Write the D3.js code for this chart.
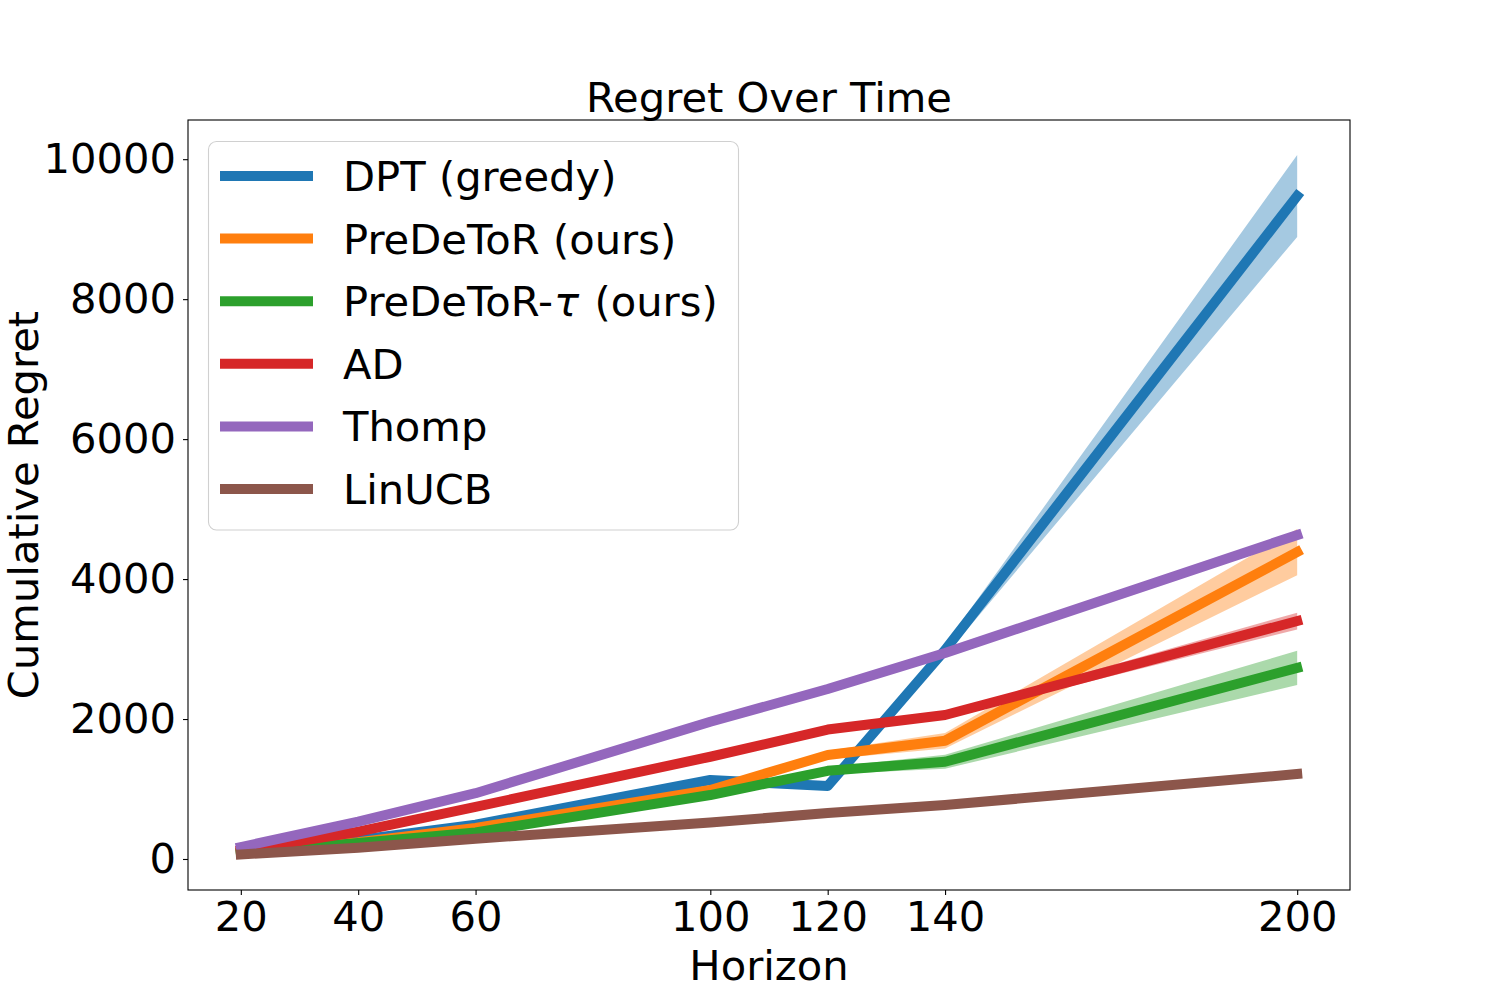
<!DOCTYPE html>
<html>
<head>
<meta charset="utf-8">
<script src="https://cdn.jsdelivr.net/npm/d3@7/dist/d3.min.js"></script>
<style>
  body { margin: 0; background: #fff; }
  text { font-family: "DejaVu Sans", sans-serif; }
</style>
</head>
<body>
<svg id="chart" width="1500" height="1000"></svg>
<script>
// ---- data ----
const horizons = [20, 40, 60, 100, 120, 140, 200];
const seriesNames = ["DPT (greedy)", "PreDeToR (ours)", "PreDeToR-τ (ours)", "AD", "Thomp", "LinUCB"];
const seriesColors = ["#1f77b4", "#ff7f0e", "#2ca02c", "#d62728", "#9467bd", "#8c564b"];
const dptMean      = [100, 271, 490, 1129, 1043, 2986, 9475];
const dptStd       = [5, 10, 15, 30, 40, 80, 585];
const predetorMean = [90, 240, 443, 986, 1486, 1690, 4386];
const predetorStd  = [5, 10, 15, 30, 60, 110, 330];
const tauMean      = [85, 229, 380, 914, 1260, 1390, 2730];
const tauStd       = [5, 10, 15, 30, 50, 100, 245];
const adMean       = [125, 390, 745, 1461, 1850, 2057, 3400];
const adStd        = [5, 10, 15, 20, 30, 40, 120];
const thompMean    = [171, 533, 940, 1961, 2429, 2943, 4630];
const thompStd     = [3, 5, 10, 15, 20, 25, 40];
const linucbMean   = [65, 160, 290, 520, 657, 771, 1214];
const linucbStd    = [8, 5, 8, 10, 12, 15, 20];
const yTicks = [0, 2000, 4000, 6000, 8000, 10000];
const titleText = "Regret Over Time";
const xLabel = "Horizon";
const yLabel = "Cumulative Regret";

const means = [dptMean, predetorMean, tauMean, adMean, thompMean, linucbMean];
const stds  = [dptStd, predetorStd, tauStd, adStd, thompStd, linucbStd];

// ---- layout ----
const L = 188, R = 1350, T = 120, B = 890;
const FS = 41.67;
const svg = d3.select("#chart");

const series = seriesNames.map((name, i) => ({
  name, color: seriesColors[i],
  pts: horizons.map((h, j) => ({ x: h, y: means[i][j], lo: means[i][j] - stds[i][j], hi: means[i][j] + stds[i][j] }))
}));

// matplotlib-style 5% margins
const xExt = d3.extent(horizons);
const xPad = (xExt[1] - xExt[0]) * 0.05;
const allLo = d3.min(series, s => d3.min(s.pts, p => Math.min(p.lo, p.y)));
const allHi = d3.max(series, s => d3.max(s.pts, p => Math.max(p.hi, p.y)));
const yPad = (allHi - allLo) * 0.05;

const x = d3.scaleLinear().domain([xExt[0] - xPad, xExt[1] + xPad]).range([L, R]);
const y = d3.scaleLinear().domain([allLo - yPad, allHi + yPad]).range([B, T]);

// clip
svg.append("defs").append("clipPath").attr("id", "clip")
  .append("rect").attr("x", L).attr("y", T).attr("width", R - L).attr("height", B - T);

const plot = svg.append("g").attr("clip-path", "url(#clip)");

// bands (below lines)
const area = d3.area().x(d => x(d.x)).y0(d => y(d.lo)).y1(d => y(d.hi));
series.forEach(s => {
  plot.append("path").attr("d", area(s.pts)).attr("fill", s.color).attr("fill-opacity", 0.4).attr("stroke", "none");
});

// lines
const line = d3.line().x(d => x(d.x)).y(d => y(d.y));
series.forEach(s => {
  plot.append("path").attr("d", line(s.pts)).attr("fill", "none")
    .attr("stroke", s.color).attr("stroke-width", 10)
    .attr("stroke-linejoin", "round").attr("stroke-linecap", "square");
});

// axes
const xAxis = d3.axisBottom(x).tickValues(horizons).tickSize(5).tickPadding(6).tickFormat(d3.format("d"));
const gx = svg.append("g").attr("transform", `translate(0,${B})`).call(xAxis);
gx.select(".domain").remove();
gx.selectAll("line").attr("stroke", "#000").attr("stroke-width", 1.1);
gx.selectAll("text").attr("font-size", FS).attr("fill", "#000").attr("font-family", "DejaVu Sans");

const yAxis = d3.axisLeft(y).tickValues(yTicks).tickSize(5).tickPadding(7).tickFormat(d3.format("d"));
const gy = svg.append("g").attr("transform", `translate(${L},0)`).call(yAxis);
gy.select(".domain").remove();
gy.selectAll("line").attr("stroke", "#000").attr("stroke-width", 1.1);
gy.selectAll("text").attr("font-size", FS).attr("fill", "#000").attr("font-family", "DejaVu Sans");

// frame
svg.append("rect").attr("x", L).attr("y", T).attr("width", R - L).attr("height", B - T)
  .attr("fill", "none").attr("stroke", "#000").attr("stroke-width", 1.1);

// titles
svg.append("text").attr("x", (L + R) / 2).attr("y", 112).attr("text-anchor", "middle")
  .attr("font-size", FS).text(titleText);
svg.append("text").attr("x", (L + R) / 2).attr("y", 980).attr("text-anchor", "middle")
  .attr("font-size", FS).text(xLabel);
svg.append("text").attr("transform", `translate(38,${(T + B) / 2}) rotate(-90)`).attr("text-anchor", "middle")
  .attr("font-size", FS).text(yLabel);

// legend
const lg = svg.append("g");
lg.append("rect").attr("x", 208.5).attr("y", 141.5).attr("width", 530).attr("height", 388.5)
  .attr("rx", 8).attr("fill", "#fff").attr("fill-opacity", 0.8).attr("stroke", "#d0d0d0").attr("stroke-width", 1.1);
series.forEach((s, i) => {
  const ry = 176 + i * 62.6;
  lg.append("line").attr("x1", 225).attr("x2", 308).attr("y1", ry).attr("y2", ry)
    .attr("stroke", s.color).attr("stroke-width", 10).attr("stroke-linecap", "square");
  const t = lg.append("text").attr("x", 343).attr("y", ry + 15).attr("font-size", FS);
  if (s.name.includes("τ")) {
    const parts = s.name.split("τ");
    t.append("tspan").text(parts[0]);
    t.append("tspan").attr("font-style", "italic").attr("dx", 1).text("τ");
    t.append("tspan").attr("dx", 2).text(parts[1]);
  } else {
    t.text(s.name);
  }
});
</script>
</body>
</html>
